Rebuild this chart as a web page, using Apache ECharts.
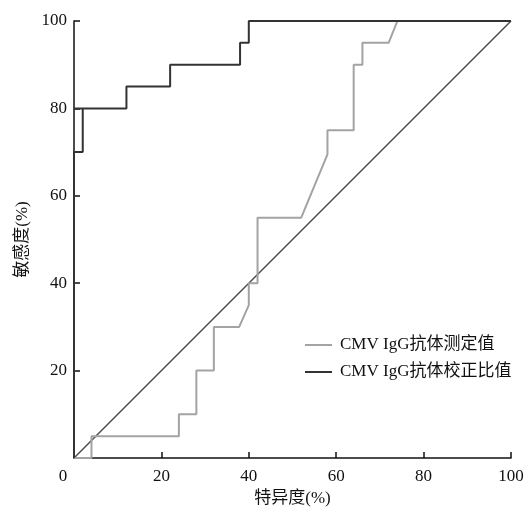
<!DOCTYPE html>
<html>
<head>
<meta charset="utf-8">
<script src="https://cdn.jsdelivr.net/npm/echarts@6/dist/echarts.min.js"></script>
<style>html,body{margin:0;padding:0;background:#fff;}#c{width:527px;height:509px;}</style>
</head>
<body>
<div id="c"></div>
<script>
// 1-特异度 (x, %) and 敏感度 (y, %) for each ROC curve
var seriesNames = ['CMV IgG抗体测定值', 'CMV IgG抗体校正比值'];
var measuredX = [0, 4, 4, 24, 24, 28, 28, 32, 32, 37.8, 40, 40, 42, 42, 52, 58, 58, 64, 64, 66, 66, 72, 74, 100];
var measuredY = [0, 0, 5, 5, 10, 10, 20, 20, 30, 30, 35, 40, 40, 55, 55, 69.5, 75, 75, 90, 90, 95, 95, 100, 100];
var ratioX = [0, 0, 2, 2, 0, 12, 12, 22, 22, 38, 38, 40, 40, 100];
var ratioY = [0, 70, 70, 80, 80, 80, 85, 85, 90, 90, 95, 95, 100, 100];
var refX = [0, 100];
var refY = [0, 100];
var xTicks = [0, 20, 40, 60, 80, 100];
var yTicks = [20, 40, 60, 80, 100];

function zip(a, b) { return a.map(function (v, i) { return [v, b[i]]; }); }

var numFont = 'Liberation Serif';
var cjkFont = "'Liberation Serif','Noto Sans CJK SC'";

var chart = echarts.init(document.getElementById('c'), null, {renderer: 'canvas'});
chart.setOption({
  animation: false,
  backgroundColor: '#fff',
  grid: {left: 74, right: 16, top: 21, bottom: 51, containLabel: false, outerBoundsMode: 'none'},
  legend: {
    data: seriesNames,
    orient: 'vertical',
    left: 305,
    top: 336,
    padding: 0,
    icon: 'rect',
    itemWidth: 27,
    itemHeight: 2,
    itemGap: 9,
    textStyle: {fontFamily: cjkFont, fontSize: 17, color: '#111', lineHeight: 18, padding: [0, 0, 0, 3]}
  },
  xAxis: {
    type: 'value', min: 0, max: 100, interval: 20,
    name: '特异度(%)', nameLocation: 'middle', nameGap: 30,
    nameTextStyle: {fontFamily: cjkFont, fontSize: 17, color: '#111'},
    axisLine: {show: true, lineStyle: {color: '#111', width: 1.5}},
    axisTick: {show: true, inside: true, length: 6, lineStyle: {color: '#111', width: 1.5}},
    axisLabel: {
      margin: 10, fontFamily: numFont, fontSize: 17, color: '#111',
      formatter: function (v) { return v === 0 ? '{z|0}' : String(v); },
      rich: {z: {fontFamily: numFont, fontSize: 17, color: '#111', padding: [0, 22, 0, 0]}}
    },
    splitLine: {show: false}
  },
  yAxis: {
    type: 'value', min: 0, max: 100, interval: 20,
    name: '敏感度(%)', nameLocation: 'middle', nameGap: 40,
    nameTextStyle: {fontFamily: cjkFont, fontSize: 17, color: '#111'},
    axisLine: {show: true, lineStyle: {color: '#111', width: 1.5}},
    axisTick: {show: true, inside: true, length: 6, lineStyle: {color: '#111', width: 1.5}},
    axisLabel: {
      margin: 7, fontFamily: numFont, fontSize: 17, color: '#111',
      formatter: function (v) { return yTicks.indexOf(v) >= 0 ? String(v) : ''; }
    },
    splitLine: {show: false}
  },
  series: [
    {
      name: seriesNames[0], type: 'line', data: zip(measuredX, measuredY),
      symbol: 'none', lineStyle: {color: '#a3a3a3', width: 2}, itemStyle: {color: '#a3a3a3'}, z: 3
    },
    {
      name: seriesNames[1], type: 'line', data: zip(ratioX, ratioY),
      symbol: 'none', lineStyle: {color: '#333', width: 2}, itemStyle: {color: '#333'}, z: 4
    },
    {
      name: 'ref', type: 'line', data: zip(refX, refY),
      symbol: 'none', lineStyle: {color: '#4a4a4a', width: 1.5}, itemStyle: {color: '#4a4a4a'}, z: 2
    }
  ]
});
</script>
</body>
</html>
